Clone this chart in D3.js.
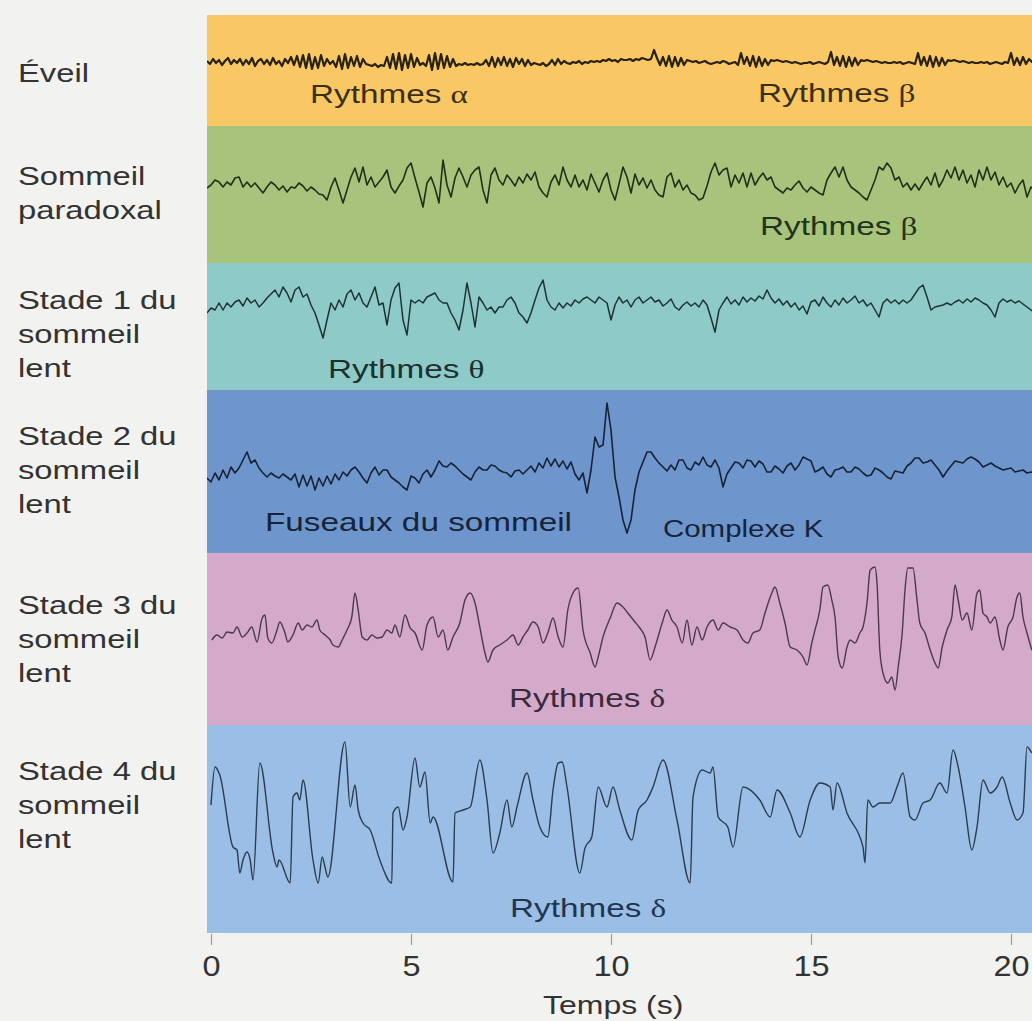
<!DOCTYPE html>
<html>
<head>
<meta charset="utf-8">
<script src="https://cdn.jsdelivr.net/npm/d3@7"></script>
<style>
  body { margin: 0; background: #f2f2f0; }
</style>
</head>
<body>
<script>
// ---- données ----
const ticks = [0, 5, 10, 15, 20];
const stageNames = [
  ["Éveil"],
  ["Sommeil", "paradoxal"],
  ["Stade 1 du", "sommeil", "lent"],
  ["Stade 2 du", "sommeil", "lent"],
  ["Stade 3 du", "sommeil", "lent"],
  ["Stade 4 du", "sommeil", "lent"]
];
const rhythmNames = [
  ["Rythmes ", "α"], ["Rythmes ", "β"], ["Rythmes ", "β"], ["Rythmes ", "θ"],
  ["Fuseaux du sommeil", ""], ["Complexe K", ""], ["Rythmes ", "δ"], ["Rythmes ", "δ"]
];

// éveil : un échantillon toutes les 0,075 s depuis -0,1 s (µV, haut = positif)
const eveil = [
  1,-2,3,-1,2,-3,1,4,-2,2, -1,3,-3,2,-2,4,-4,1,3,-2, 2,-3,4,-2,1,-4,3,-1,5,-3,
  6,-5,7,-6,8,-7,5,-6,7,-4, 3,-2,1,-5,6,-7,8,-6,5,-4, 6,-5,3,-2,-3,-4,-2,-5,-3,-4,
  5,-6,8,-7,9,-8,7,-6,8,-5, 4,-3,-1,-4,7,-8,9,-7,8,-6, 6,-5,3,-4,-2,-3,-1,-3,-2,-3,
  -1,-3,-2,2,-4,5,-5,4,-3,5, -4,3,-5,4,-2,3,-4,2,-3,-1, -2,-3,-1,-4,-2,2,-3,3,-2,1,
  -1,-2,0,-1,1,-2,0,-1,1,0, 1,0,2,1,3,1,2,0,3,2, 2,3,1,3,2,4,3,2,3,12,
  4,-3,5,-4,6,-5,5,-4,4,-3, 2,1,0,1,-1,0,1,-1,-2,-1, 0,-1,1,0,-2,-1,0,-3,9,-2,
  5,-4,6,-5,5,-4,3,-3,2,1, 2,1,0,1,0,-1,0,-1,-2,-1, -1,0,-2,-1,0,-1,-2,0,10,-3,
  5,-4,6,-5,5,-4,4,-3,2,1, 2,1,0,1,0,-1,0,-1,-1,0, -1,0,-2,-1,0,-1,-2,9,-3,5,
  -4,6,-5,5,-4,4,-3,2,1,2, 1,0,1,0,-1,0,-1,-1,0,-1, 0,-2,-1,0,-1,-2,0,-1,9,-3,
  4,-3,5,-2,3,0,1
];

// sommeil paradoxal, stades 1 et 2 : un échantillon toutes les 0,1 s depuis -0,1 s
const paradoxal = [
  -5,-2,3,1,-4,1,-2,5,6,-4, 1,-4,0,-5,-10,-4,1,-2,-7,-3, -9,-4,-5,0,-3,-8,-4,-7,-11,-12,
  -17,-4,5,-7,-20,-7,6,15,1,16, -2,6,-4,1,6,13,-4,-10,-3,3, 15,20,5,-9,-24,0,6,-5,-20,23,
  -2,-14,5,15,6,-4,8,13,16,-7, -20,8,15,3,-2,8,3,-3,6,0, 9,3,11,-4,-10,-14,1,8,-2,16,
  3,-4,8,-4,3,-7,9,0,-9,3, 10,-7,-17,-1,16,6,-10,9,-2,5, -5,3,-7,-12,-14,6,10,-4,3,-7,
  -2,-10,-12,-17,-15,-3,11,20,8,13, 15,-4,8,0,10,-4,10,-2,5,10, 3,6,-4,-7,-10,-5,-7,-2,2,-5,
  -9,-4,-7,-10,-12,3,10,16,6,16, 3,-4,-7,-10,-14,-17,-7,3,16,13, 20,15,3,6,-4,0,-7,-1,-7,0,
  6,-2,10,-4,3,13,5,16,3,13, 0,8,-4,13,3,16,3,11,-2,6, -4,0,-10,-2,3,-14,-4,-7
];
const stade1 = [
  -8,-3,-5,2,-5,2,-2,3,5,-1, 7,2,5,-2,2,7,11,15,8,18, 12,3,15,18,8,11,0,-8,-20,-33,
  -15,2,-5,5,-2,11,15,5,12,2, -2,8,18,0,2,-20,5,17,22,-15, -30,5,2,5,2,8,10,12,5,2,
  2,-8,-15,-25,-5,22,2,-22,8,2, -5,-2,-8,-2,-2,5,8,2,-8,-12, -18,-8,5,17,25,5,-2,-5,2,-3,
  2,-1,5,2,6,8,5,2,8,5, 2,-15,0,8,2,5,-2,5,8,2, 5,8,3,5,-1,2,6,-2,-5,0,
  3,-1,2,-2,5,0,-13,-27,-5,2, 8,1,5,0,8,3,7,4,9,6, 15,7,2,6,0,4,-2,2,-5,-1,
  -9,3,5,-1,8,2,-2,5,0,7, 2,5,9,2,5,-1,2,-5,-12,2, 6,2,5,1,5,2,5,11,17,20,
  8,-5,-2,-1,0,2,0,3,5,2, 6,3,7,5,2,0,-5,-12,2,6, 3,5,2,4,1,-2,-5,-8
];
const stade2 = [
  -8,-12,-3,-10,0,-8,3,-3,2,10, 18,7,10,2,-3,-7,-3,-6,-8,-4, -7,-10,-4,-17,-5,-16,-6,-20,-8,-16,
  -6,-14,-4,-10,-2,-6,0,3,-2,-8, -13,-3,3,-5,0,0,-7,-10,-13,-17, -20,-6,-8,-13,-4,0,-7,0,9,4,
  3,7,4,0,-4,-7,-10,-2,3,0, 0,5,4,0,-2,-3,-7,-1,0,-4, 0,4,-2,7,2,12,4,11,3,9,
  1,8,-4,-10,-3,-23,0,33,23,25, 67,40,-7,-27,-50,-63,-50,-20,-2,8, 18,18,12,7,3,-1,5,0,10,10,
  2,0,8,5,13,5,3,10,2,-17, -4,2,8,7,2,10,9,3,9,6, -2,-2,4,1,-3,4,7,0,5,13,
  11,9,-2,0,3,-4,-7,0,1,3, -2,-2,3,1,-3,-6,-5,2,0,-3, -7,-9,-1,-2,-3,4,7,12,12,7,
  8,10,5,0,-7,-1,4,9,8,7, 11,13,11,8,3,5,7,4,2,0, 1,2,-2,-1,0,-3,-2,-3
];

// stades 3 et 4 : sommets et creux [temps (s), µV]
const stade3 = [
  [0.02,-5],[0.15,0],[0.28,-3],[0.40,3],[0.55,2],[0.65,8],[0.78,-2],[0.90,2],[1.02,8],[1.15,-7],
  [1.28,17],[1.35,20],[1.42,-3],[1.52,-8],[1.65,5],[1.72,13],[1.85,2],[1.92,-7],[2.05,0],[2.18,12],
  [2.28,5],[2.40,10],[2.52,8],[2.65,15],[2.72,5],[2.85,0],[2.98,-5],[3.05,-10],[3.18,-12],[3.28,-5],
  [3.40,5],[3.52,18],[3.60,42],[3.68,25],[3.78,-2],[3.90,-5],[4.02,0],[4.15,-3],[4.28,-2],[4.40,5],
  [4.52,2],[4.60,10],[4.72,-2],[4.85,20],[4.98,7],[5.10,2],[5.28,-15],[5.40,10],[5.55,18],[5.68,-2],
  [5.80,5],[5.92,-15],[6.05,-2],[6.22,12],[6.35,35],[6.48,42],[6.60,32],[6.72,8],[6.85,-18],[6.92,-27],
  [7.05,-15],[7.22,-10],[7.40,-5],[7.55,0],[7.68,-10],[7.80,-2],[7.92,5],[8.05,13],[8.18,8],[8.30,-8],
  [8.42,2],[8.55,17],[8.68,-2],[8.80,-12],[8.92,25],[9.05,42],[9.18,47],[9.30,5],[9.48,-18],[9.60,-32],
  [9.68,-22],[9.80,-2],[9.98,17],[10.15,32],[10.30,28],[10.42,22],[10.60,13],[10.72,7],[10.85,-2],[10.98,-25],
  [11.10,-12],[11.28,12],[11.40,25],[11.52,15],[11.65,8],[11.78,-8],[11.90,15],[12.02,-10],[12.15,8],[12.28,-5],
  [12.40,8],[12.55,15],[12.68,5],[12.80,12],[12.98,8],[13.15,5],[13.30,-5],[13.42,-8],[13.55,2],[13.72,5],
  [13.85,22],[14.02,42],[14.10,48],[14.22,32],[14.35,12],[14.48,-12],[14.65,-15],[14.80,-22],[14.90,-30],[15.02,-8],
  [15.10,5],[15.22,25],[15.30,48],[15.42,50],[15.52,35],[15.60,18],[15.68,-22],[15.78,-33],[15.90,-12],[15.98,-5],
  [16.10,-8],[16.22,2],[16.30,8],[16.40,32],[16.48,65],[16.60,68],[16.65,52],[16.72,-15],[16.80,-38],[16.92,-48],
  [17.02,-42],[17.10,-55],[17.18,-32],[17.28,2],[17.35,45],[17.42,67],[17.55,67],[17.65,35],[17.72,12],[17.85,2],
  [17.98,-15],[18.10,-28],[18.18,-33],[18.28,-12],[18.40,5],[18.52,18],[18.60,50],[18.68,35],[18.78,15],[18.90,22],
  [19.02,5],[19.15,42],[19.22,45],[19.30,22],[19.40,18],[19.48,12],[19.60,18],[19.72,-5],[19.80,-15],[19.92,8],
  [20.05,18],[20.15,38],[20.22,42],[20.30,18],[20.40,2],[20.52,-15]
];
const stade4 = [
  [0.00,10],[0.10,48],[0.22,40],[0.55,-32],[0.65,-35],[0.72,-58],[0.80,-45],[0.90,-37],[0.98,-45],[1.05,-65],
  [1.22,52],[1.55,-38],[1.65,-52],[1.70,-45],[1.98,-68],[2.05,18],[2.15,22],[2.22,15],[2.30,35],[2.55,-45],
  [2.68,-68],[2.78,-42],[2.85,-52],[2.92,-62],[3.35,73],[3.48,8],[3.60,30],[3.68,5],[3.80,-8],[3.98,-15],
  [4.22,-45],[4.52,-68],[4.55,2],[4.68,8],[4.80,-15],[4.90,-2],[5.10,57],[5.22,28],[5.35,43],[5.48,-8],
  [5.55,-2],[6.05,-67],[6.10,2],[6.30,5],[6.48,8],[6.72,55],[6.90,15],[7.05,-38],[7.22,-18],[7.40,15],
  [7.52,-12],[7.65,8],[7.90,42],[8.05,15],[8.22,-12],[8.42,-22],[8.55,25],[8.68,52],[8.78,53],[8.90,28],
  [9.22,-58],[9.35,-33],[9.52,-22],[9.68,28],[9.90,8],[10.05,28],[10.22,5],[10.52,-25],[10.68,5],[10.90,15],
  [11.05,28],[11.30,55],[11.65,-5],[11.98,-68],[12.05,18],[12.28,45],[12.48,42],[12.55,48],[12.68,-2],[12.92,-12],
  [13.05,-32],[13.30,28],[13.72,15],[13.98,-2],[14.15,25],[14.48,2],[14.72,-22],[14.98,15],[15.22,32],[15.48,28],
  [15.55,5],[15.65,32],[15.90,2],[16.30,-32],[16.35,-48],[16.42,15],[16.55,8],[16.72,12],[16.98,12],[17.15,28],
  [17.30,42],[17.48,-2],[17.60,-5],[17.80,12],[17.98,15],[18.22,32],[18.40,22],[18.55,65],[18.68,48],[18.85,8],
  [19.02,-35],[19.15,-12],[19.30,35],[19.48,22],[19.65,28],[19.78,38],[19.98,12],[20.15,-5],[20.30,2],[20.40,68],
  [20.52,62]
];

// ---- mise en page ----
const width = 1032, height = 1021;
const font = "'Liberation Sans', Arial, Helvetica, sans-serif";

const svg = d3.select("body").append("svg")
  .attr("width", width)
  .attr("height", height);

svg.append("rect")
  .attr("width", width)
  .attr("height", height)
  .attr("fill", "#f2f2f0");

const x = d3.scaleLinear().domain([0, 20]).range([211, 1011]);
const amp = d3.scaleLinear().domain([-100, 100]).range([100, -100]); // 1 µV = 1 px

// bandes colorées (haut, bas, couleur, ligne de base du tracé, encre)
const bands = [
  {top: 15,  bottom: 126, fill: "#f9c865", base: 62,  ink: "#2a2210", sw: 2.2},
  {top: 126, bottom: 263, fill: "#a8c37c", base: 183, ink: "#22301a", sw: 1.6},
  {top: 263, bottom: 390, fill: "#8ecac8", base: 305, ink: "#1d3333", sw: 1.5},
  {top: 390, bottom: 553, fill: "#6e96cd", base: 470, ink: "#162238", sw: 1.6},
  {top: 553, bottom: 725, fill: "#d5a9c9", base: 635, ink: "#4a3a4a", sw: 1.4},
  {top: 725, bottom: 933, fill: "#9bbee6", base: 815, ink: "#2b3c4e", sw: 1.4}
];
const plotLeft = x(-0.1);

svg.selectAll(".band")
  .data(bands)
  .join("rect")
  .attr("class", "band")
  .attr("x", plotLeft)
  .attr("y", d => d.top)
  .attr("width", width - plotLeft)
  .attr("height", d => d.bottom - d.top)
  .attr("fill", d => d.fill);

svg.append("clipPath").attr("id", "plot")
  .append("rect")
  .attr("x", plotLeft).attr("y", 0)
  .attr("width", width - plotLeft).attr("height", height);

// tracés
const uniform = (vals, t0, dt) => vals.map((v, i) => [t0 + i * dt, v]);
const traces = [
  {pts: uniform(eveil, -0.1, 0.075), curve: d3.curveLinear},
  {pts: uniform(paradoxal, -0.1, 0.1), curve: d3.curveLinear},
  {pts: uniform(stade1, -0.1, 0.1), curve: d3.curveLinear},
  {pts: uniform(stade2, -0.1, 0.1), curve: d3.curveLinear},
  {pts: stade3, curve: d3.curveMonotoneX},
  {pts: stade4, curve: d3.curveMonotoneX}
];

const traceG = svg.append("g").attr("clip-path", "url(#plot)");
traces.forEach((tr, i) => {
  const b = bands[i];
  const line = d3.line()
    .x(d => x(d[0]))
    .y(d => b.base + amp(d[1]))
    .curve(tr.curve);
  traceG.append("path")
    .attr("d", line(tr.pts))
    .attr("fill", "none")
    .attr("stroke", b.ink)
    .attr("stroke-width", b.sw)
    .attr("stroke-linejoin", "round");
});

// texte étiré horizontalement comme sur la figure
function addText(parts, px, py, size, sx, color) {
  const t = svg.append("text")
    .attr("transform", `translate(${px},${py}) scale(${sx},1)`)
    .style("font-family", font)
    .style("font-size", size + "px")
    .attr("fill", color);
  t.append("tspan").text(parts[0]);
  if (parts[1]) {
    t.append("tspan")
      .style("font-family", "'Liberation Serif', 'DejaVu Serif', serif")
      .text(parts[1]);
  }
}

// noms des stades, à gauche
const firstLine = [82, 185, 309, 445, 614, 780];
stageNames.forEach((lines, i) => {
  lines.forEach((s, j) => addText([s], 18, firstLine[i] + j * 34, 26, 1.26, "#333333"));
});

// noms des rythmes dans les bandes
const rhythmPos = [
  [310, 103, 26], [758, 102, 26], [760, 235, 26], [328, 378, 26],
  [265, 531, 26], [663, 537, 23], [509, 707, 26], [510, 917, 26]
];
const rhythmInk = ["#3a3018", "#3a3018", "#22331c", "#1d3030", "#16243a", "#16243a", "#3a2a3a", "#1f3550"];
rhythmNames.forEach((r, i) => {
  const [px, py, size] = rhythmPos[i];
  addText(r, px, py, size, 1.28, rhythmInk[i]);
});

// axe du temps
const axis = svg.append("g")
  .attr("transform", "translate(0,934)")
  .call(d3.axisBottom(x).tickValues(ticks).tickSize(11).tickFormat(d3.format("d")));
axis.select(".domain").remove();
axis.selectAll(".tick line").attr("stroke", "#999").attr("stroke-width", 1.2);
axis.selectAll(".tick text")
  .attr("y", 42)
  .attr("dy", 0)
  .attr("transform", "scale(1.12,1)")
  .style("font-family", font)
  .style("font-size", "29px")
  .attr("fill", "#333333");

addText(["Temps (s)"], 543, 1014, 25, 1.28, "#333333");
</script>
</body>
</html>
